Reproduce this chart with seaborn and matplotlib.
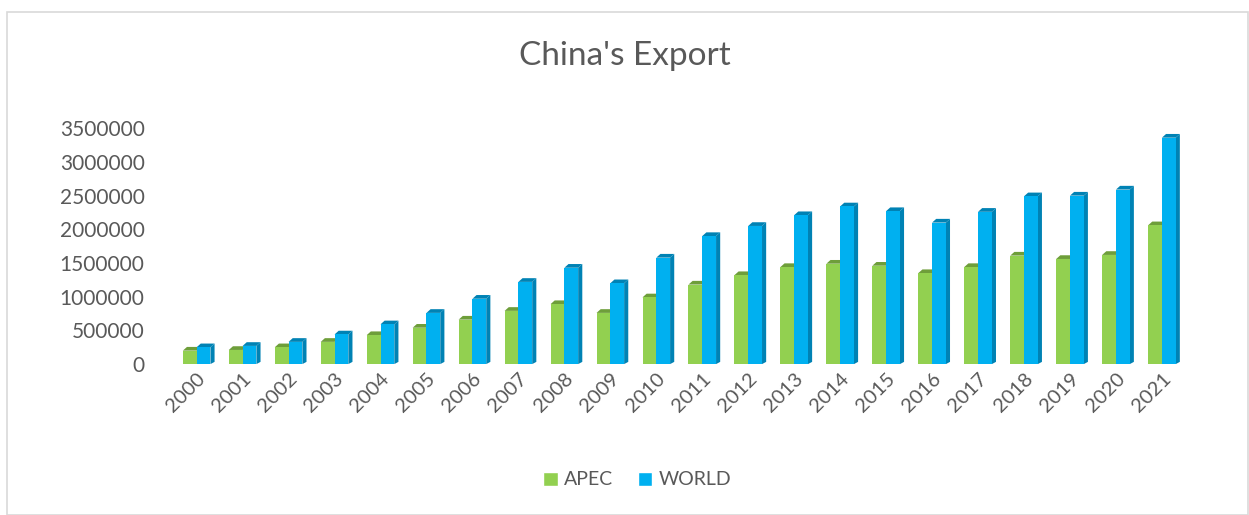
import matplotlib
matplotlib.use("Agg")
import matplotlib.pyplot as plt
from matplotlib.patches import Polygon, Rectangle
import seaborn as sns
import pandas as pd

# values
years = [str(y) for y in range(2000, 2022)]
apec = [200000, 210000, 250000, 330000, 430000, 540000, 660000, 790000, 890000, 760000,
        990000, 1180000, 1320000, 1440000, 1490000, 1460000, 1350000, 1440000, 1610000,
        1560000, 1620000, 2060000]
world = [250000, 270000, 330000, 440000, 590000, 760000, 970000, 1220000, 1430000, 1200000,
         1580000, 1900000, 2050000, 2210000, 2340000, 2270000, 2100000, 2260000, 2490000,
         2500000, 2590000, 3360000]
series_names = ["APEC", "WORLD"]

COLORS = {"APEC": "#92D050", "WORLD": "#00B0F0"}
SIDE = {"APEC": "#6E9E3A", "WORLD": "#0082B4"}
TEXT = "#595959"

df = pd.DataFrame({
    "year": years * 2,
    "value": apec + world,
    "series": ["APEC"] * len(years) + ["WORLD"] * len(years),
})

sns.set_style("white")
plt.rcParams["font.family"] = ["Lato", "DejaVu Sans"]

fig = plt.figure(figsize=(12.49, 5.15), dpi=100)
ax = fig.add_axes([0.128, 0.293, 0.817, 0.458])

sns.barplot(data=df, x="year", y="value", hue="series", hue_order=series_names,
            palette=COLORS, width=0.6, saturation=1, ax=ax, zorder=2, legend=False,
            linewidth=0, edgecolor="none")

ax.set_ylim(0, 3500000)
ax.set_xlim(-0.8, 21.4)
ax.set_yticks(range(0, 3500001, 500000))
ax.set_yticklabels([str(v) for v in range(0, 3500001, 500000)], fontsize=15, color=TEXT)
ax.tick_params(axis="y", length=0, pad=11)
ax.tick_params(axis="x", length=0, pad=4)
ax.set_xticks(range(len(years)))
ax.set_xticklabels(years, rotation=45, ha="right", rotation_mode="anchor",
                   fontsize=14.5, color=TEXT)
ax.set_xlabel("")
ax.set_ylabel("")
sns.despine(ax=ax, left=True, bottom=True)

# fake 3D depth: side and top faces derived from each bar
dx = 0.09
dy = 55000
for i, bar in enumerate(ax.patches):
    name = series_names[i // len(years)]
    x, w, h = bar.get_x(), bar.get_width(), bar.get_height()
    side = Polygon([(x + w, 0), (x + w + dx, dy * 0.6), (x + w + dx, h + dy), (x + w, h)],
                   closed=True, facecolor=SIDE[name], edgecolor="none", zorder=1)
    top = Polygon([(x, h), (x + dx, h + dy), (x + w + dx, h + dy), (x + w, h)],
                  closed=True, facecolor=SIDE[name], edgecolor="none", zorder=1)
    ax.add_patch(side)
    ax.add_patch(top)

fig.suptitle("China's Export", y=0.92, fontsize=24, color=TEXT)

handles = [Rectangle((0, 0), 1, 1, facecolor=COLORS[n]) for n in series_names]
fig.legend(handles, series_names, loc="center", bbox_to_anchor=(0.51, 0.068), ncol=2,
           frameon=False, fontsize=14, handlelength=0.75, handleheight=0.75,
           handletextpad=0.3, columnspacing=1.3, labelcolor=TEXT)

# chart area border
fig.patches.append(Rectangle((0.006, 0.0), 0.993, 0.977, transform=fig.transFigure,
                             fill=False, edgecolor="#D9D9D9", linewidth=1.2))

fig.savefig("out.png", dpi=100)
